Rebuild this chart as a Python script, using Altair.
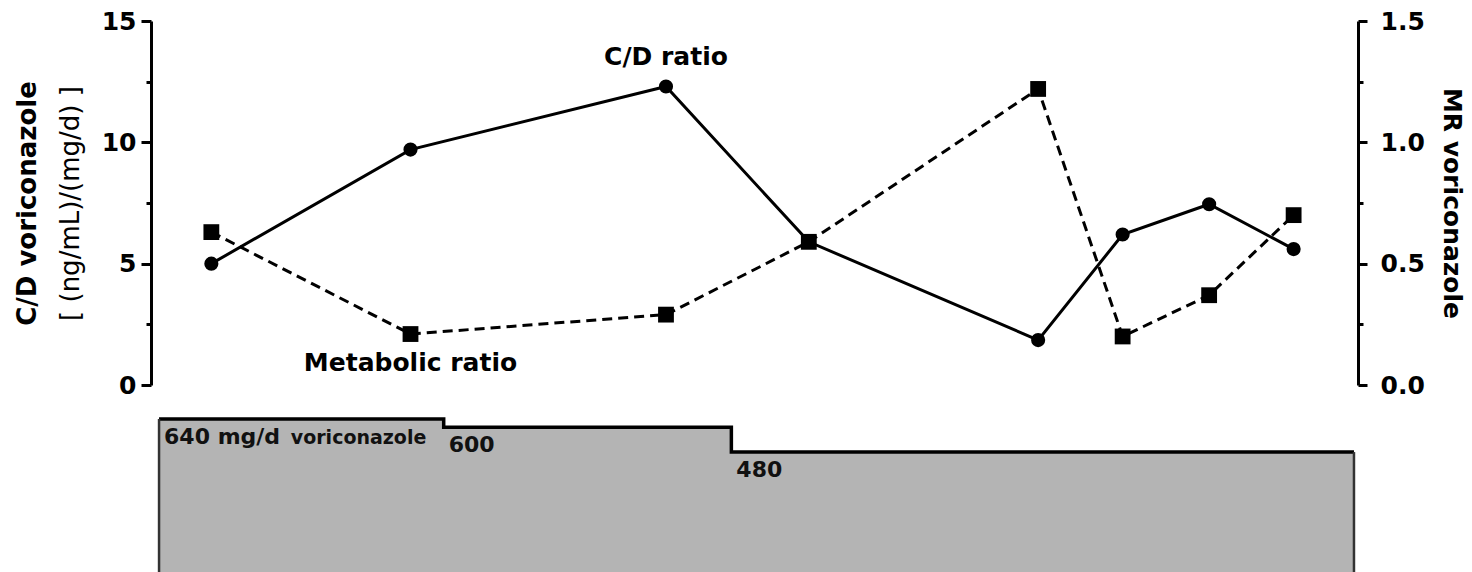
import altair as alt
import pandas as pd

# ---- data ----
days = [6.0, 25.8, 51.2, 65.4, 88.2, 96.6, 105.2, 113.6]
cd_ratio = [5.0, 9.7, 12.3, 5.9, 1.85, 6.2, 7.45, 5.6]
metabolic_ratio = [0.63, 0.21, 0.29, 0.59, 1.22, 0.20, 0.37, 0.70]

dose_days = [0.8, 29.1, 57.7, 119.6]
dose_mg = [640, 600, 480, 480]
dose_labels = ["640 mg/d", "600", "480", ""]

ann_text = ["C/D ratio", "Metabolic ratio"]
ann_day = [51.2, 25.8]
ann_cd = [13.5, 0.9]

X_DOMAIN = [0, 120]
DOSE_FLOOR = -110
FONT = "DejaVu Sans"

df = pd.DataFrame({"day": days, "cd": cd_ratio, "mr": metabolic_ratio})
ann = pd.DataFrame({"text": ann_text, "day": ann_day, "cd": ann_cd})
dose = pd.DataFrame({"day": dose_days, "dose": dose_mg, "label": dose_labels})
dose_edges = dose.iloc[[0, len(dose) - 1]]
dose_text = dose[dose["label"] != ""]
note = pd.DataFrame({"day": [13.9], "dose": [dose_mg[0]], "label": ["voriconazole"]})

W = 1207
H_TOP = 364
H_BOT = 155

xenc = alt.X("day:Q", scale=alt.Scale(domain=X_DOMAIN, nice=False), axis=None)
cd_scale = alt.Scale(domain=[0, 15], nice=False)
mr_scale = alt.Scale(domain=[0, 1.5], nice=False)

cd_y = alt.Y(
    "cd:Q",
    scale=cd_scale,
    axis=alt.Axis(
        orient="left",
        values=[0, 2.5, 5, 7.5, 10, 12.5, 15],
        labelExpr="datum.value % 5 === 0 ? datum.label : ''",
        tickSize={"condition": {"test": "datum.value % 5 === 0", "value": 10}, "value": 5},
        labelPadding=5,
        grid=False,
        title="[ (ng/mL)/(mg/d) ]",
        titleFontWeight="normal",
        titlePadding=18,
    ),
)
mr_y = alt.Y(
    "mr:Q",
    scale=mr_scale,
    axis=alt.Axis(
        orient="right",
        values=[0, 0.25, 0.5, 0.75, 1.0, 1.25, 1.5],
        format=".1f",
        labelExpr="(datum.value * 2) % 1 === 0 ? datum.label : ''",
        tickSize={"condition": {"test": "(datum.value * 2) % 1 === 0", "value": 9}, "value": 5},
        labelPadding=13,
        grid=False,
        title="MR voriconazole",
        titleFontWeight="bold",
        titleFontSize=25,
        titlePadding=14,
    ),
)

base = alt.Chart(df).encode(x=xenc)

cd_line = base.mark_line(color="black", strokeWidth=3).encode(y=cd_y)
cd_pts = base.mark_point(shape="circle", filled=True, size=200, color="black", opacity=1).encode(y=cd_y)
cd_ann = alt.Chart(ann).mark_text(
    font=FONT, fontSize=25, fontWeight="bold", color="black", align="center", baseline="middle"
).encode(x=xenc, y=alt.Y("cd:Q", scale=cd_scale), text="text:N")
cd_layer = alt.layer(cd_line, cd_pts, cd_ann)

mr_line = base.mark_line(color="black", strokeWidth=3, strokeDash=[10, 6]).encode(y=mr_y)
mr_pts = base.mark_point(shape="square", filled=True, size=250, color="black", opacity=1).encode(y=mr_y)
mr_layer = alt.layer(mr_line, mr_pts)

title_layer = base.mark_point(opacity=0).encode(
    y=alt.Y(
        "cd:Q",
        scale=cd_scale,
        axis=alt.Axis(
            orient="left",
            labels=False,
            ticks=False,
            domain=False,
            grid=False,
            title="C/D voriconazole",
            titleFontWeight="bold",
            titlePadding=111,
        ),
    )
)

top = alt.layer(cd_layer, mr_layer, title_layer).resolve_scale(y="independent").properties(
    width=W, height=H_TOP
)

dose_y = alt.Y("dose:Q", scale=alt.Scale(domain=[DOSE_FLOOR, 640], nice=False), axis=None)
area = alt.Chart(dose).mark_area(
    interpolate="step-after", color="#b4b4b4", opacity=1,
    line={"color": "black", "strokeWidth": 3.5}
).encode(x=xenc, y=dose_y, y2=alt.datum(DOSE_FLOOR))
edges = alt.Chart(dose_edges).mark_rule(color="#333333", strokeWidth=2.5).encode(
    x=xenc, y=dose_y, y2=alt.datum(DOSE_FLOOR)
)
dose_lbl = alt.Chart(dose_text).mark_text(
    font=FONT, fontSize=22, fontWeight="bold", color="#111111", align="left", baseline="alphabetic", dx=5, dy=25
).encode(x=xenc, y=dose_y, text="label:N")
note_lbl = alt.Chart(note).mark_text(
    font=FONT, fontSize=19, fontWeight="bold", color="#111111", align="left", baseline="alphabetic", dy=25
).encode(x=xenc, y=dose_y, text="label:N")

bottom = alt.layer(area, edges, dose_lbl, note_lbl).properties(width=W, height=H_BOT)

chart = (
    alt.vconcat(top, bottom, spacing=12)
    .properties(padding={"left": 13, "top": 8, "right": 0, "bottom": 0}, background="white")
    .configure_view(stroke="transparent")
    .configure_axis(
        domainColor="black",
        domainWidth=3,
        tickColor="black",
        tickWidth=3,
        labelFont=FONT,
        labelFontSize=25,
        labelFontWeight="bold",
        labelColor="black",
        titleFont=FONT,
        titleFontSize=26,
        titleColor="black",
    )
)

chart.save("out.html", embed_options={"renderer": "svg", "actions": False})
